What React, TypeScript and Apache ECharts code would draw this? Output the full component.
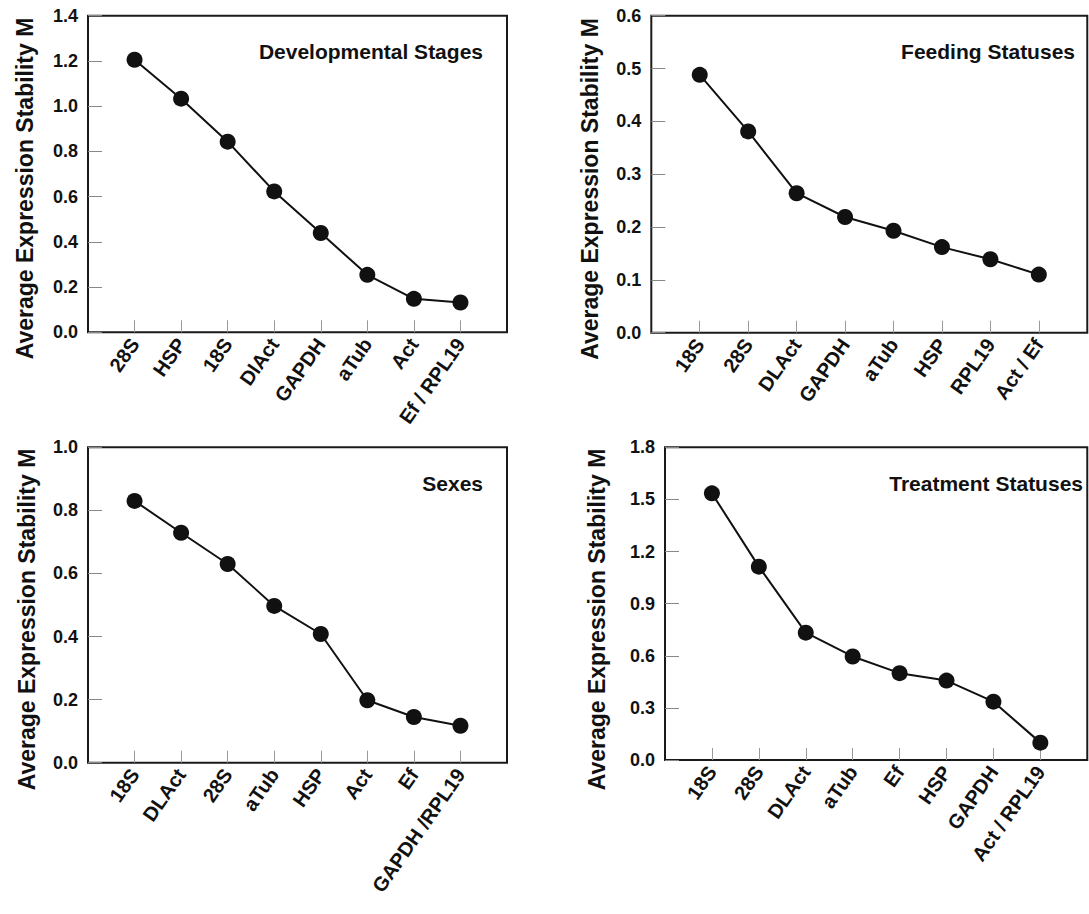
import React, { useEffect, useRef } from "react";
import * as echarts from "echarts";

const dsGenes = ["28S", "HSP", "18S", "DlAct", "GAPDH", "aTub", "Act", "Ef / RPL19"];
const dsValues = [1.205, 1.033, 0.843, 0.623, 0.439, 0.254, 0.148, 0.132];

const fsGenes = ["18S", "28S", "DLAct", "GAPDH", "aTub", "HSP", "RPL19", "Act / Ef"];
const fsValues = [0.488, 0.381, 0.264, 0.219, 0.193, 0.162, 0.139, 0.11];

const sxGenes = ["18S", "DLAct", "28S", "aTub", "HSP", "Act", "Ef", "GAPDH /RPL19"];
const sxValues = [0.83, 0.729, 0.63, 0.497, 0.408, 0.198, 0.145, 0.117];

const tsGenes = ["18S", "28S", "DLAct", "aTub", "Ef", "HSP", "GAPDH", "Act / RPL19"];
const tsValues = [1.535, 1.113, 0.733, 0.596, 0.5, 0.457, 0.336, 0.1];

const panelTitles = ["Developmental Stages", "Feeding Statuses", "Sexes", "Treatment Statuses"];
const yMax = [1.4, 0.6, 1.0, 1.8];
const yStep = [0.2, 0.1, 0.2, 0.3];
const yName = "Average Expression Stability M";

const FONT = '"Liberation Sans", Arial, Helvetica, sans-serif';
const INK = "#111";

export default function App() {
  const ref = useRef<HTMLDivElement>(null);
  useEffect(() => {
    if (!ref.current) return;
    const chart = echarts.init(ref.current, undefined, { renderer: "svg" });
    const genes = [dsGenes, fsGenes, sxGenes, tsGenes];
    const values = [dsValues, fsValues, sxValues, tsValues];
    const grids = [
      { left: 88, top: 15.7, width: 419, height: 316.6 },
      { left: 651.3, top: 15.7, width: 441, height: 317 },
      { left: 88, top: 447.3, width: 419, height: 315.4 },
      { left: 665, top: 447.3, width: 435, height: 312.7 },
    ];
    const titlePos = [
      [483, 51.5],
      [1075, 51.5],
      [483, 483.3],
      [1083, 483.3],
    ];
    const namePos = [
      [25, 188.5],
      [590, 189],
      [27, 619.5],
      [597, 619.5],
    ];
    const option: any = {
      animation: false,
      backgroundColor: "#fff",
      grid: grids.map((g) => ({
        ...g,
        show: true,
        borderColor: "#1a1a1a",
        borderWidth: 2,
        backgroundColor: "transparent",
        containLabel: false,
      })),
      xAxis: genes.map((g, i) => ({
        type: "category",
        gridIndex: i,
        boundaryGap: false,
        data: ["", ...g, ""],
        axisLine: { show: false },
        axisTick: {
          show: true,
          inside: true,
          length: 12,
          interval: (idx: number) => idx > 0 && idx < g.length + 1,
          lineStyle: { color: "#999", width: 1 },
        },
        axisLabel: {
          interval: 0,
          rotate: 55,
          margin: 8,
          color: INK,
          fontSize: 20,
          fontWeight: "bold",
          fontFamily: FONT,
        },
        splitLine: { show: false },
      })),
      yAxis: yMax.map((m, i) => ({
        type: "value",
        gridIndex: i,
        min: 0,
        max: m,
        interval: yStep[i],
        axisLine: { show: false },
        axisTick: {
          show: true,
          inside: true,
          length: 14,
          lineStyle: { color: "#888", width: 1 },
        },
        axisLabel: {
          margin: 10,
          color: INK,
          fontSize: 18,
          fontWeight: "bold",
          fontFamily: FONT,
          formatter: (v: number) => v.toFixed(1),
        },
        splitLine: { show: false },
      })),
      series: values.map((v, i) => ({
        type: "line",
        xAxisIndex: i,
        yAxisIndex: i,
        data: [null, ...v, null],
        symbol: "circle",
        symbolSize: 16,
        showSymbol: true,
        lineStyle: { color: INK, width: 2 },
        itemStyle: { color: INK },
        connectNulls: false,
      })),
      graphic: [
        ...panelTitles.map((t, i) => ({
          type: "text",
          x: titlePos[i][0],
          y: titlePos[i][1],
          z: 100,
          style: {
            text: t,
            fill: INK,
            fontSize: 21,
            fontWeight: "bold",
            fontFamily: FONT,
            align: "right",
            verticalAlign: "middle",
          },
        })),
        ...namePos.map((p) => ({
          type: "text",
          x: p[0],
          y: p[1],
          rotation: Math.PI / 2,
          z: 100,
          style: {
            text: yName,
            fill: INK,
            fontSize: 23,
            fontWeight: "bold",
            fontFamily: FONT,
            align: "center",
            verticalAlign: "middle",
          },
        })),
      ],
    };
    chart.setOption(option);
    return () => chart.dispose();
  }, []);
  return (
    <div
      ref={ref}
      style={{ position: "absolute", left: 0, top: 0, width: 1089, height: 914, background: "#fff" }}
    />
  );
}
